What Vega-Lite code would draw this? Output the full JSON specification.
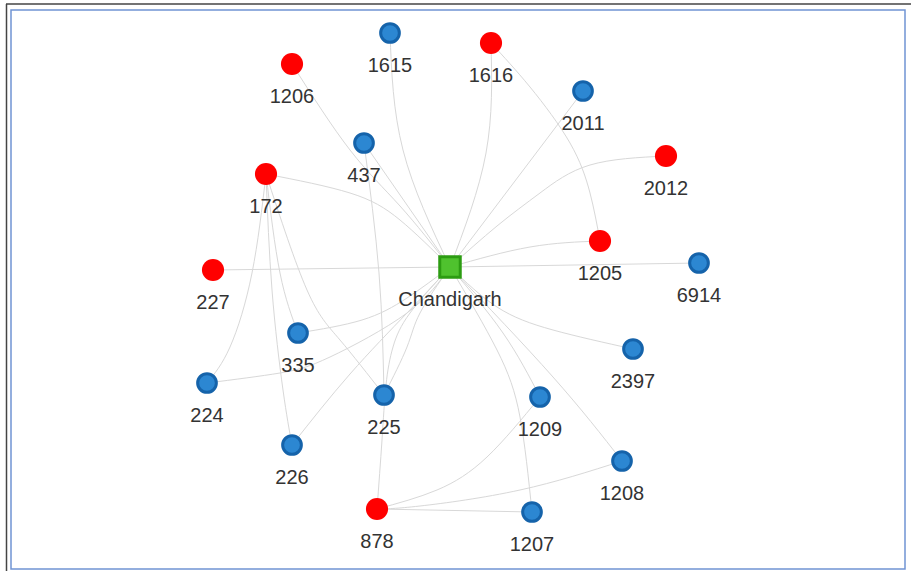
{
  "$schema": "https://vega.github.io/schema/vega-lite/v6.json",
  "width": 894,
  "height": 559,
  "autosize": "none",
  "padding": {"left": 11, "top": 10, "right": 6, "bottom": 2},
  "background": "white",
  "config": {"view": {"stroke": "#7094d4", "strokeWidth": 1.5}},
  "datasets": {
    "nodes": [
      {"id": "Chandigarh", "kind": "hub", "x": 450, "y": 267},
      {"id": "1615", "kind": "blue", "x": 390, "y": 33},
      {"id": "1616", "kind": "red", "x": 491, "y": 43},
      {"id": "1206", "kind": "red", "x": 292, "y": 64},
      {"id": "2011", "kind": "blue", "x": 583, "y": 91},
      {"id": "437", "kind": "blue", "x": 364, "y": 143},
      {"id": "2012", "kind": "red", "x": 666, "y": 156},
      {"id": "172", "kind": "red", "x": 266, "y": 174},
      {"id": "1205", "kind": "red", "x": 600, "y": 241},
      {"id": "227", "kind": "red", "x": 213, "y": 270},
      {"id": "6914", "kind": "blue", "x": 699, "y": 263},
      {"id": "335", "kind": "blue", "x": 298, "y": 333},
      {"id": "2397", "kind": "blue", "x": 633, "y": 349},
      {"id": "224", "kind": "blue", "x": 207, "y": 383},
      {"id": "225", "kind": "blue", "x": 384, "y": 395},
      {"id": "1209", "kind": "blue", "x": 540, "y": 397},
      {"id": "226", "kind": "blue", "x": 292, "y": 445},
      {"id": "1208", "kind": "blue", "x": 622, "y": 461},
      {"id": "878", "kind": "red", "x": 377, "y": 509},
      {"id": "1207", "kind": "blue", "x": 532, "y": 512}
    ],
    "edges": [
      {"e": "C-1615", "o": 0, "x": 390, "y": 33}, {"e": "C-1615", "o": 1, "x": 403, "y": 150}, {"e": "C-1615", "o": 2, "x": 450, "y": 267},
      {"e": "C-1616", "o": 0, "x": 491, "y": 43}, {"e": "C-1616", "o": 1, "x": 486, "y": 153}, {"e": "C-1616", "o": 2, "x": 450, "y": 267},
      {"e": "C-2011", "o": 0, "x": 583, "y": 91}, {"e": "C-2011", "o": 1, "x": 450, "y": 267},
      {"e": "C-2012", "o": 0, "x": 666, "y": 156}, {"e": "C-2012", "o": 1, "x": 590, "y": 165}, {"e": "C-2012", "o": 2, "x": 540, "y": 193}, {"e": "C-2012", "o": 3, "x": 497, "y": 226}, {"e": "C-2012", "o": 4, "x": 450, "y": 267},
      {"e": "C-1205", "o": 0, "x": 600, "y": 241}, {"e": "C-1205", "o": 1, "x": 530, "y": 247}, {"e": "C-1205", "o": 2, "x": 450, "y": 267},
      {"e": "C-6914", "o": 0, "x": 699, "y": 263}, {"e": "C-6914", "o": 1, "x": 450, "y": 267},
      {"e": "1616-1205", "o": 0, "x": 491, "y": 43}, {"e": "1616-1205", "o": 1, "x": 530, "y": 87}, {"e": "1616-1205", "o": 2, "x": 570, "y": 143}, {"e": "1616-1205", "o": 3, "x": 590, "y": 193}, {"e": "1616-1205", "o": 4, "x": 600, "y": 241},
      {"e": "1206-C", "o": 0, "x": 292, "y": 64}, {"e": "1206-C", "o": 1, "x": 350, "y": 150}, {"e": "1206-C", "o": 2, "x": 400, "y": 206}, {"e": "1206-C", "o": 3, "x": 450, "y": 267},
      {"e": "437-C", "o": 0, "x": 364, "y": 143}, {"e": "437-C", "o": 1, "x": 450, "y": 267},
      {"e": "437-225", "o": 0, "x": 364, "y": 143}, {"e": "437-225", "o": 1, "x": 379, "y": 273}, {"e": "437-225", "o": 2, "x": 384, "y": 395},
      {"e": "172-C", "o": 0, "x": 266, "y": 174}, {"e": "172-C", "o": 1, "x": 350, "y": 193}, {"e": "172-C", "o": 2, "x": 400, "y": 220}, {"e": "172-C", "o": 3, "x": 450, "y": 267},
      {"e": "227-C", "o": 0, "x": 213, "y": 270}, {"e": "227-C", "o": 1, "x": 450, "y": 267},
      {"e": "172-224", "o": 0, "x": 266, "y": 174}, {"e": "172-224", "o": 1, "x": 252, "y": 273}, {"e": "172-224", "o": 2, "x": 230, "y": 347}, {"e": "172-224", "o": 3, "x": 207, "y": 383},
      {"e": "172-226", "o": 0, "x": 266, "y": 174}, {"e": "172-226", "o": 1, "x": 272, "y": 290}, {"e": "172-226", "o": 2, "x": 283, "y": 390}, {"e": "172-226", "o": 3, "x": 292, "y": 445},
      {"e": "172-335", "o": 0, "x": 266, "y": 174}, {"e": "172-335", "o": 1, "x": 280, "y": 273}, {"e": "172-335", "o": 2, "x": 298, "y": 333},
      {"e": "172-225", "o": 0, "x": 266, "y": 174}, {"e": "172-225", "o": 1, "x": 307, "y": 290}, {"e": "172-225", "o": 2, "x": 340, "y": 340}, {"e": "172-225", "o": 3, "x": 384, "y": 395},
      {"e": "335-C", "o": 0, "x": 298, "y": 333}, {"e": "335-C", "o": 1, "x": 362, "y": 320}, {"e": "335-C", "o": 2, "x": 407, "y": 298}, {"e": "335-C", "o": 3, "x": 450, "y": 267},
      {"e": "224-C", "o": 0, "x": 207, "y": 383}, {"e": "224-C", "o": 1, "x": 280, "y": 373}, {"e": "224-C", "o": 2, "x": 330, "y": 357}, {"e": "224-C", "o": 3, "x": 407, "y": 313}, {"e": "224-C", "o": 4, "x": 450, "y": 267},
      {"e": "226-C", "o": 0, "x": 292, "y": 445}, {"e": "226-C", "o": 1, "x": 350, "y": 374}, {"e": "226-C", "o": 2, "x": 407, "y": 313}, {"e": "226-C", "o": 3, "x": 450, "y": 267},
      {"e": "225-C", "o": 0, "x": 384, "y": 395}, {"e": "225-C", "o": 1, "x": 407, "y": 347}, {"e": "225-C", "o": 2, "x": 420, "y": 313}, {"e": "225-C", "o": 3, "x": 450, "y": 267},
      {"e": "878-C", "o": 0, "x": 377, "y": 509}, {"e": "878-C", "o": 1, "x": 382, "y": 440}, {"e": "878-C", "o": 2, "x": 386, "y": 385}, {"e": "878-C", "o": 3, "x": 393, "y": 347}, {"e": "878-C", "o": 4, "x": 410, "y": 313}, {"e": "878-C", "o": 5, "x": 450, "y": 267},
      {"e": "C-1209", "o": 0, "x": 450, "y": 267}, {"e": "C-1209", "o": 1, "x": 503, "y": 333}, {"e": "C-1209", "o": 2, "x": 540, "y": 397},
      {"e": "C-1207", "o": 0, "x": 450, "y": 267}, {"e": "C-1207", "o": 1, "x": 497, "y": 350}, {"e": "C-1207", "o": 2, "x": 520, "y": 417}, {"e": "C-1207", "o": 3, "x": 532, "y": 512},
      {"e": "C-1208", "o": 0, "x": 450, "y": 267}, {"e": "C-1208", "o": 1, "x": 553, "y": 377}, {"e": "C-1208", "o": 2, "x": 622, "y": 461},
      {"e": "C-2397", "o": 0, "x": 450, "y": 267}, {"e": "C-2397", "o": 1, "x": 497, "y": 307}, {"e": "C-2397", "o": 2, "x": 553, "y": 330}, {"e": "C-2397", "o": 3, "x": 633, "y": 349},
      {"e": "878-1209", "o": 0, "x": 377, "y": 509}, {"e": "878-1209", "o": 1, "x": 437, "y": 490}, {"e": "878-1209", "o": 2, "x": 487, "y": 457}, {"e": "878-1209", "o": 3, "x": 540, "y": 397},
      {"e": "878-1208", "o": 0, "x": 377, "y": 509}, {"e": "878-1208", "o": 1, "x": 420, "y": 506}, {"e": "878-1208", "o": 2, "x": 520, "y": 490}, {"e": "878-1208", "o": 3, "x": 622, "y": 461},
      {"e": "878-1207", "o": 0, "x": 377, "y": 509}, {"e": "878-1207", "o": 1, "x": 532, "y": 512}
    ],
    "frame": [
      {"side": "top", "x": 6, "x2": 912, "y": 4, "y2": 4},
      {"side": "left", "x": 6.5, "x2": 6.5, "y": 4, "y2": 572}
    ]
  },
  "encoding": {
    "x": {"field": "x", "type": "quantitative", "axis": null, "scale": {"domain": [11, 905], "nice": false, "zero": false}},
    "y": {"field": "y", "type": "quantitative", "axis": null, "scale": {"domain": [10, 569], "nice": false, "zero": false, "reverse": true}}
  },
  "layer": [
    {
      "data": {"name": "edges"},
      "mark": {"type": "line", "interpolate": "natural", "stroke": "#d8d8d8", "strokeWidth": 1},
      "encoding": {"detail": {"field": "e"}, "order": {"field": "o", "type": "quantitative"}}
    },
    {
      "data": {"name": "nodes"},
      "transform": [{"filter": "datum.kind === 'blue'"}],
      "mark": {"type": "point", "shape": "circle", "filled": true, "fill": "#2c87d2", "stroke": "#1563aa", "strokeWidth": 3, "size": 350, "opacity": 1}
    },
    {
      "data": {"name": "nodes"},
      "transform": [{"filter": "datum.kind === 'red'"}],
      "mark": {"type": "circle", "fill": "#ff0000", "size": 490, "opacity": 1}
    },
    {
      "data": {"name": "nodes"},
      "transform": [{"filter": "datum.kind === 'hub'"}],
      "mark": {"type": "point", "shape": "square", "filled": true, "fill": "#4fc22e", "stroke": "#2c9c12", "strokeWidth": 3, "size": 420, "opacity": 1}
    },
    {
      "data": {"name": "nodes"},
      "mark": {"type": "text", "dy": 39, "baseline": "alphabetic", "font": "Liberation Sans", "fontSize": 20, "fill": "#333333"},
      "encoding": {"text": {"field": "id"}}
    },
    {
      "data": {"name": "frame"},
      "mark": {"type": "rule", "stroke": "#444444", "strokeWidth": 1.5, "clip": false},
      "encoding": {
        "x": {"field": "x", "type": "quantitative"},
        "x2": {"field": "x2"},
        "y": {"field": "y", "type": "quantitative"},
        "y2": {"field": "y2"}
      }
    }
  ]
}
